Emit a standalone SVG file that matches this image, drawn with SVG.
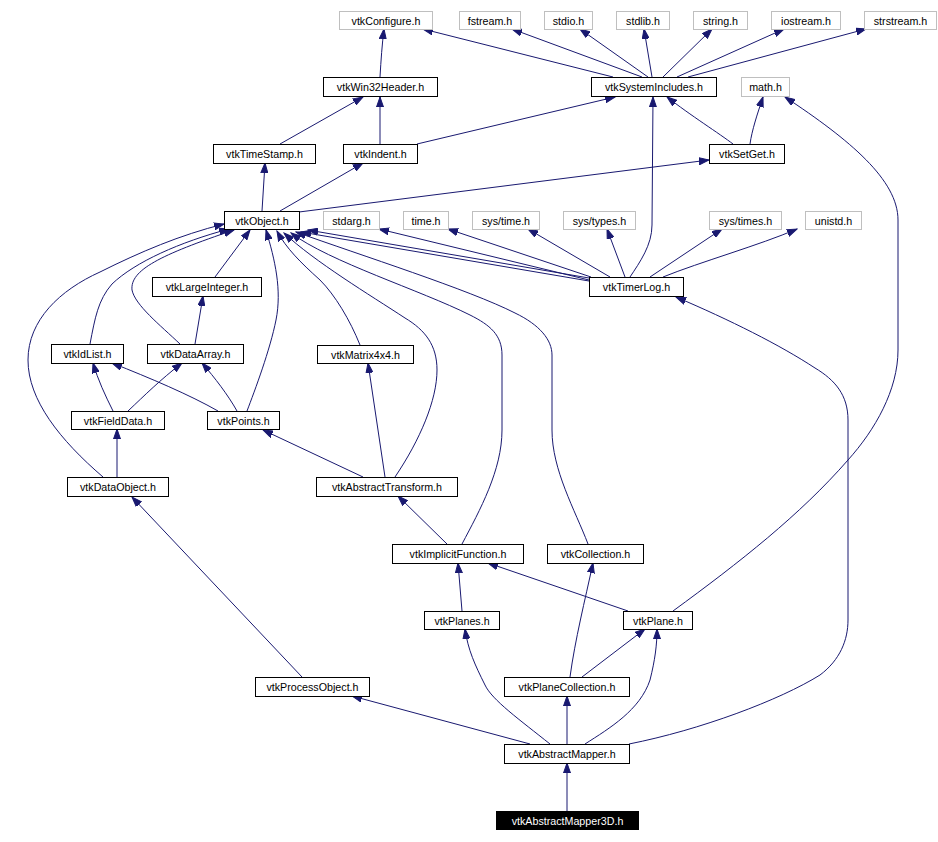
<svg xmlns="http://www.w3.org/2000/svg" width="938" height="842" viewBox="0 0 938 842">
<style>
.n rect{fill:#fff;stroke:#000;stroke-width:1}
.g rect{fill:#fff;stroke:#bfbfbf;stroke-width:1}
.n text,.g text{font-family:"Liberation Sans",Arial,sans-serif;font-size:10.7px;text-anchor:middle;fill:#000}
.r rect{fill:#000;stroke:#000}
.r text{font-family:"Liberation Sans",Arial,sans-serif;font-size:10.7px;text-anchor:middle;fill:#fff}
#edges path{fill:none;stroke:#191970;stroke-width:1;marker-end:url(#a)}
</style>
<defs>
<marker id="a" markerWidth="11" markerHeight="8" refX="10" refY="4" orient="auto" markerUnits="userSpaceOnUse">
<path d="M0,0.5 L10,4 L0,7.5 z" fill="#191970" stroke="#191970" stroke-width="1"/>
</marker>
</defs>
<rect width="938" height="842" fill="#fff"/>
<g id="edges">
<path d="M380,77 C381,60 382,45 384,29"/>
<path d="M613,77 L423,29"/>
<path d="M642,77 L512,29"/>
<path d="M648,77 L580,29"/>
<path d="M652,77 L644,29"/>
<path d="M663,77 L712,29"/>
<path d="M677,77 L784,29"/>
<path d="M688,77 L866,29"/>
<path d="M280,144 L363,97"/>
<path d="M380,144 L380,97"/>
<path d="M417,144 L615,97"/>
<path d="M733,144 C720,134 690,115 667,97"/>
<path d="M750,144 C752,130 757,115 763,97"/>
<path d="M630,277 C640,262 652,245 652,225 L653,97"/>
<path d="M673,611 C740,562 800,515 848,460 C875,430 898,390 898,350 L898,220 C898,180 850,140 785,97"/>
<path d="M262,211 L265,163"/>
<path d="M280,211 L363,163"/>
<path d="M299,212 L709,160"/>
<path d="M589,278 L308,230"/>
<path d="M589,281 L301,232"/>
<path d="M360,345 C350,320 335,295 320,280 C300,262 286,248 277,231"/>
<path d="M395,477 C420,440 437,400 437,370 C437,345 425,330 405,318 C370,295 315,262 284,233"/>
<path d="M462,544 C480,510 502,470 502,430 L502,355 C502,335 490,325 470,315 C420,290 330,262 291,233"/>
<path d="M588,544 C575,510 552,470 552,430 L552,355 C552,340 540,325 515,313 C470,290 360,255 296,232"/>
<path d="M589,280 L379,229"/>
<path d="M591,277 L448,229"/>
<path d="M610,277 L528,229"/>
<path d="M625,277 L607,229"/>
<path d="M650,277 L722,229"/>
<path d="M663,277 C700,262 760,245 797,229"/>
<path d="M103,477 C60,440 28,400 28,360 C28,320 60,290 100,272 C140,252 180,235 224,224"/>
<path d="M90,344 C95,318 98,300 112,284 C135,262 180,242 229,229"/>
<path d="M180,344 C160,325 135,305 132,290 C130,270 160,255 234,230"/>
<path d="M215,277 L250,230"/>
<path d="M247,411 C255,390 270,350 276,320 C282,290 275,260 266,230"/>
<path d="M195,344 L203,296"/>
<path d="M113,411 C105,395 98,380 93,363"/>
<path d="M128,411 C145,395 160,380 182,363"/>
<path d="M218,411 C190,395 150,378 112,363"/>
<path d="M237,411 C228,395 215,378 202,363"/>
<path d="M117,477 L117,429"/>
<path d="M363,477 L263,430"/>
<path d="M385,477 L368,363"/>
<path d="M447,544 L398,496"/>
<path d="M302,677 L132,497"/>
<path d="M462,611 L458,563"/>
<path d="M628,611 L488,563"/>
<path d="M570,677 C575,640 585,600 593,563"/>
<path d="M582,677 L645,629"/>
<path d="M550,744 C520,720 492,700 485,685 C475,665 468,650 465,629"/>
<path d="M567,744 L567,696"/>
<path d="M585,744 C610,728 640,710 650,680 C655,660 657,645 657,629"/>
<path d="M530,744 L352,696"/>
<path d="M567,811 L567,763"/>
<path d="M629,744 C700,730 780,700 820,675 C840,660 848,640 848,620 L848,420 C848,395 835,380 815,368 C780,345 730,320 676,297"/>
</g>
<g id="vtkAbstractMapper3D" class="r"><rect x="496.5" y="811.5" width="142" height="18"/><text x="567.5" y="824.5">vtkAbstractMapper3D.h</text></g>
<g id="vtkAbstractMapper" class="n"><rect x="504.5" y="744.5" width="125" height="19"/><text x="567" y="758">vtkAbstractMapper.h</text></g>
<g id="vtkPlaneCollection" class="n"><rect x="504.5" y="677.5" width="125" height="19"/><text x="567" y="691">vtkPlaneCollection.h</text></g>
<g id="vtkProcessObject" class="n"><rect x="255.5" y="677.5" width="114" height="19"/><text x="312.5" y="691">vtkProcessObject.h</text></g>
<g id="vtkPlanes" class="n"><rect x="424.5" y="611.5" width="75" height="18"/><text x="462" y="624.5">vtkPlanes.h</text></g>
<g id="vtkPlane" class="n"><rect x="623.5" y="611.5" width="69" height="18"/><text x="658" y="624.5">vtkPlane.h</text></g>
<g id="vtkImplicitFunction" class="n"><rect x="392.5" y="544.5" width="131" height="19"/><text x="458" y="558">vtkImplicitFunction.h</text></g>
<g id="vtkCollection" class="n"><rect x="547.5" y="544.5" width="96" height="19"/><text x="595.5" y="558">vtkCollection.h</text></g>
<g id="vtkAbstractTransform" class="n"><rect x="316.5" y="477.5" width="141" height="19"/><text x="387" y="491">vtkAbstractTransform.h</text></g>
<g id="vtkDataObject" class="n"><rect x="67.5" y="477.5" width="101" height="19"/><text x="118" y="491">vtkDataObject.h</text></g>
<g id="vtkFieldData" class="n"><rect x="71.5" y="411.5" width="93" height="18"/><text x="118" y="424.5">vtkFieldData.h</text></g>
<g id="vtkPoints" class="n"><rect x="207.5" y="411.5" width="72" height="18"/><text x="243.5" y="424.5">vtkPoints.h</text></g>
<g id="vtkIdList" class="n"><rect x="51.5" y="344.5" width="72" height="19"/><text x="87.5" y="358">vtkIdList.h</text></g>
<g id="vtkDataArray" class="n"><rect x="147.5" y="344.5" width="96" height="19"/><text x="195.5" y="358">vtkDataArray.h</text></g>
<g id="vtkMatrix4x4" class="n"><rect x="317.5" y="345.5" width="96" height="18"/><text x="365.5" y="358.5">vtkMatrix4x4.h</text></g>
<g id="vtkLargeInteger" class="n"><rect x="152.5" y="277.5" width="109" height="19"/><text x="207" y="291">vtkLargeInteger.h</text></g>
<g id="vtkTimerLog" class="n"><rect x="589.5" y="277.5" width="94" height="19"/><text x="636.5" y="291">vtkTimerLog.h</text></g>
<g id="vtkObject" class="n"><rect x="224.5" y="211.5" width="75" height="18"/><text x="262" y="224.5">vtkObject.h</text></g>
<g id="stdarg" class="g"><rect x="323.5" y="211.5" width="56" height="18"/><text x="351.5" y="224.5">stdarg.h</text></g>
<g id="time" class="g"><rect x="403.5" y="211.5" width="45" height="18"/><text x="426" y="224.5">time.h</text></g>
<g id="sys_time" class="g"><rect x="472.5" y="211.5" width="67" height="18"/><text x="506" y="224.5">sys/time.h</text></g>
<g id="sys_types" class="g"><rect x="563.5" y="211.5" width="72" height="18"/><text x="599.5" y="224.5">sys/types.h</text></g>
<g id="sys_times" class="g"><rect x="709.5" y="211.5" width="72" height="18"/><text x="745.5" y="224.5">sys/times.h</text></g>
<g id="unistd" class="g"><rect x="805.5" y="211.5" width="56" height="18"/><text x="833.5" y="224.5">unistd.h</text></g>
<g id="vtkTimeStamp" class="n"><rect x="213.5" y="144.5" width="102" height="19"/><text x="264.5" y="158">vtkTimeStamp.h</text></g>
<g id="vtkIndent" class="n"><rect x="343.5" y="144.5" width="74" height="19"/><text x="380.5" y="158">vtkIndent.h</text></g>
<g id="vtkSetGet" class="n"><rect x="709.5" y="144.5" width="75" height="19"/><text x="747" y="158">vtkSetGet.h</text></g>
<g id="vtkWin32Header" class="n"><rect x="323.5" y="77.5" width="114" height="19"/><text x="380.5" y="91">vtkWin32Header.h</text></g>
<g id="vtkSystemIncludes" class="n"><rect x="591.5" y="77.5" width="125" height="19"/><text x="654" y="91">vtkSystemIncludes.h</text></g>
<g id="math" class="g"><rect x="741.5" y="77.5" width="48" height="19"/><text x="765.5" y="91">math.h</text></g>
<g id="vtkConfigure" class="g"><rect x="339.5" y="11.5" width="93" height="18"/><text x="386" y="24.5">vtkConfigure.h</text></g>
<g id="fstream" class="g"><rect x="459.5" y="11.5" width="61" height="18"/><text x="490" y="24.5">fstream.h</text></g>
<g id="stdio" class="g"><rect x="544.5" y="11.5" width="48" height="18"/><text x="568.5" y="24.5">stdio.h</text></g>
<g id="stdlib" class="g"><rect x="616.5" y="11.5" width="53" height="18"/><text x="643" y="24.5">stdlib.h</text></g>
<g id="string" class="g"><rect x="693.5" y="11.5" width="54" height="18"/><text x="720.5" y="24.5">string.h</text></g>
<g id="iostream" class="g"><rect x="771.5" y="11.5" width="69" height="18"/><text x="806" y="24.5">iostream.h</text></g>
<g id="strstream" class="g"><rect x="864.5" y="11.5" width="72" height="18"/><text x="900.5" y="24.5">strstream.h</text></g>
</svg>
